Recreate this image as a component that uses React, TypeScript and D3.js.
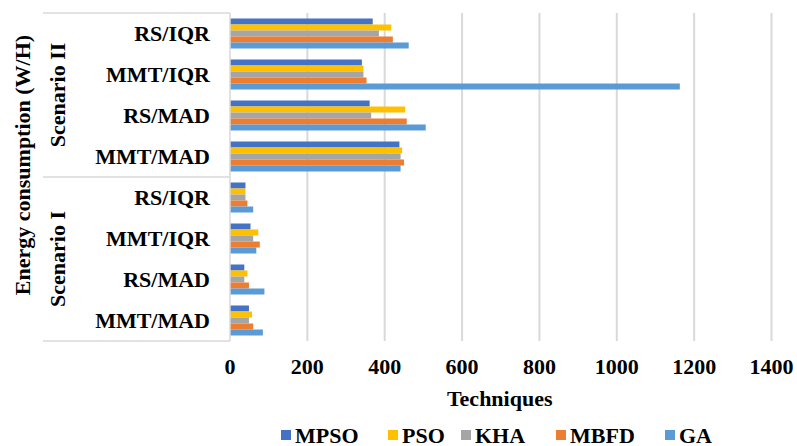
import React from "react";
import * as d3 from "d3";

// Row order bottom-to-top: Scenario I then Scenario II, four method pairs each
const scenarios = ["Scenario I", "Scenario II"];
const methods = ["MMT/MAD", "RS/MAD", "MMT/IQR", "RS/IQR"];
const seriesNames = ["MPSO", "PSO", "KHA", "MBFD", "GA"];
const seriesColors = ["#4472C4", "#FFC000", "#A5A5A5", "#ED7D31", "#5B9BD5"];

// Energy consumption (W/H), one value per row in the order above
const mpso = [49, 37, 53, 40, 438, 361, 341, 369];
const pso = [57, 45, 73, 40, 445, 453, 345, 417];
const kha = [49, 37, 60, 40, 441, 365, 345, 385];
const mbfd = [60, 49, 77, 45, 450, 457, 353, 421];
const ga = [85, 89, 68, 60, 441, 506, 1163, 462];

const xTicks = [0, 200, 400, 600, 800, 1000, 1200, 1400];

const W = 797;
const H = 446;
const FONT = "Liberation Serif, Tinos, Times New Roman, DejaVu Serif, serif";
const textStyle: React.CSSProperties = { fontFamily: FONT, fontWeight: 700 };
const FS = 22;

export default function App() {
  const values = [mpso, pso, kha, mbfd, ga];
  const rows = scenarios.flatMap((s) => methods.map((m) => `${s}|${m}`));

  const plotLeft = 230;
  const plotRight = 771.5;
  const plotTop = 13;
  const plotBottom = 341;

  const x = d3.scaleLinear().domain([0, 1400]).range([plotLeft, plotRight]);
  const y = d3
    .scaleBand<string>()
    .domain(rows)
    .range([plotBottom, plotTop])
    .paddingInner(0)
    .paddingOuter(0);
  const bandH = y.bandwidth();
  const groupH = 30;
  const inner = d3
    .scaleBand<string>()
    .domain(seriesNames)
    .range([(bandH - groupH) / 2, (bandH + groupH) / 2]);

  const scenarioSpan = (s: string) => {
    const first = y(`${s}|${methods[0]}`)! + bandH;
    const last = y(`${s}|${methods[methods.length - 1]}`)!;
    return [last, first];
  };

  const legendX = [281, 388, 461, 556, 665];
  const legendY = 435;

  return (
    <svg
      width={W}
      height={H}
      style={{ position: "absolute", left: 0, top: 0, background: "#fff" }}
    >
      <rect width={W} height={H} fill="#fff" />

      {/* vertical gridlines */}
      {xTicks.slice(1).map((t) => (
        <line
          key={t}
          x1={x(t)}
          x2={x(t)}
          y1={plotTop}
          y2={plotBottom}
          stroke="#D9D9D9"
          strokeWidth={2}
        />
      ))}

      {/* bars */}
      {rows.map((r, ri) =>
        seriesNames.map((s, si) => (
          <rect
            key={`${r}-${s}`}
            x={x(0)}
            y={y(r)! + inner(s)!}
            width={x(values[si][ri]) - x(0)}
            height={inner.bandwidth()}
            fill={seriesColors[si]}
          />
        ))
      )}

      {/* category axis line and group separators */}
      <line x1={plotLeft} x2={plotLeft} y1={plotTop} y2={plotBottom} stroke="#D9D9D9" strokeWidth={1.5} />
      {[plotTop, scenarioSpan("Scenario I")[0], plotBottom].map((yy, i) => (
        <line key={i} x1={43} x2={plotLeft} y1={yy} y2={yy} stroke="#D9D9D9" strokeWidth={1.5} />
      ))}

      {/* method labels */}
      {rows.map((r) => (
        <text
          key={r}
          x={210}
          y={y(r)! + bandH / 2}
          textAnchor="end"
          dominantBaseline="central"
          fontSize={FS}
          fill="#000"
          style={textStyle}
        >
          {r.split("|")[1]}
        </text>
      ))}

      {/* scenario labels */}
      {scenarios.map((s) => {
        const [a, b] = scenarioSpan(s);
        const cy = (a + b) / 2;
        return (
          <text
            key={s}
            transform={`translate(57,${cy}) rotate(-90)`}
            textAnchor="middle"
            dominantBaseline="central"
            fontSize={FS}
            fill="#000"
            style={textStyle}
          >
            {s}
          </text>
        );
      })}

      {/* y-axis title */}
      <text
        transform={`translate(22,${(plotTop + plotBottom) / 2 - 12}) rotate(-90)`}
        textAnchor="middle"
        dominantBaseline="central"
        fontSize={FS}
        fill="#000"
        style={textStyle}
      >
        Energy consumption (W/H)
      </text>

      {/* x tick labels */}
      {xTicks.map((t) => (
        <text
          key={t}
          x={x(t)}
          y={366}
          textAnchor="middle"
          dominantBaseline="central"
          fontSize={FS}
          fill="#000"
          style={textStyle}
        >
          {t}
        </text>
      ))}

      {/* x-axis title */}
      <text
        x={(plotLeft + plotRight) / 2 - 1}
        y={398}
        textAnchor="middle"
        dominantBaseline="central"
        fontSize={FS}
        fill="#000"
        style={textStyle}
      >
        Techniques
      </text>

      {/* legend */}
      {seriesNames.map((s, i) => (
        <g key={s}>
          <rect x={legendX[i]} y={legendY - 5} width={10} height={10} fill={seriesColors[i]} />
          <text
            x={legendX[i] + 14}
            y={legendY}
            dominantBaseline="central"
            fontSize={FS}
            fill="#000"
            style={textStyle}
          >
            {s}
          </text>
        </g>
      ))}
    </svg>
  );
}
